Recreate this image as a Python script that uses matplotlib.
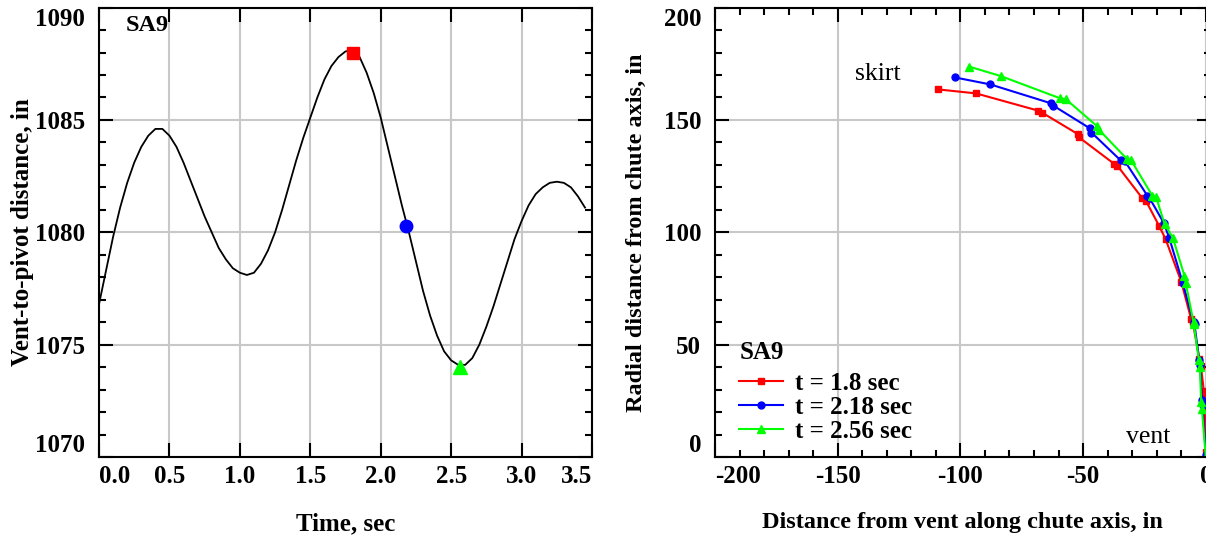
import matplotlib
matplotlib.use("Agg")
from matplotlib import pyplot as plt
from matplotlib.ticker import MultipleLocator

plt.rcParams['font.family'] = ['Liberation Serif', 'DejaVu Serif']
plt.rcParams['font.weight'] = 'bold'
plt.rcParams['font.size'] = 18
plt.rcParams['axes.unicode_minus'] = False

# left panel: vent-to-pivot distance vs time
time_s = [0.0, 0.05, 0.1, 0.15, 0.2, 0.25, 0.3, 0.35, 0.4, 0.45, 0.5, 0.55, 0.6, 0.65,
          0.7, 0.75, 0.8, 0.85, 0.9, 0.95, 1.0, 1.05, 1.1, 1.15, 1.2, 1.25, 1.3, 1.35,
          1.4, 1.45, 1.5, 1.55, 1.6, 1.65, 1.7, 1.75, 1.8, 1.85, 1.9, 1.95, 2.0, 2.05,
          2.1, 2.15, 2.2, 2.25, 2.3, 2.35, 2.4, 2.45, 2.5, 2.55, 2.6, 2.65, 2.7, 2.75,
          2.8, 2.85, 2.9, 2.95, 3.0, 3.05, 3.1, 3.15, 3.2, 3.25, 3.3, 3.35, 3.4, 3.45]
dist_in = [1076.8, 1078.3, 1079.8, 1081.1, 1082.2, 1083.1, 1083.8, 1084.3, 1084.6, 1084.6,
           1084.3, 1083.8, 1083.1, 1082.3, 1081.5, 1080.7, 1080.0, 1079.3, 1078.8, 1078.4,
           1078.2, 1078.1, 1078.2, 1078.6, 1079.2, 1080.0, 1081.0, 1082.1, 1083.2, 1084.2,
           1085.1, 1086.0, 1086.8, 1087.4, 1087.8, 1088.05, 1088.1, 1087.8, 1087.1, 1086.2,
           1085.1, 1083.8, 1082.5, 1081.2, 1080.0, 1078.7, 1077.4, 1076.3, 1075.4, 1074.7,
           1074.3, 1074.1, 1074.1, 1074.4, 1075.0, 1075.8, 1076.7, 1077.7, 1078.7, 1079.7,
           1080.5, 1081.2, 1081.7, 1082.0, 1082.2, 1082.25, 1082.2, 1082.0, 1081.6, 1081.1]
mark_t = [1.8, 2.18, 2.56]
mark_d = [1088.0, 1080.3, 1074.0]
time_ticks = [0.0, 0.5, 1.0, 1.5, 2.0, 2.5, 3.0, 3.5]
dist_ticks = [1070, 1075, 1080, 1085, 1090]

# right panel: chute profiles at three instants
red_x = [-109.2, -93.6, -68.2, -66.8, -52.0, -51.6, -37.4, -36.0, -25.9, -24.3, -19.1,
         -16.4, -10.0, -6.0, -5.3, -2.6, -2.0, -0.8, -0.5, 0.0]
red_y = [163.6, 161.8, 154.1, 153.3, 143.6, 142.2, 130.5, 129.6, 115.2, 113.8, 103.0,
         97.0, 78.0, 61.5, 60.0, 43.7, 40.5, 29.5, 27.0, 2.0]
blue_x = [-102.2, -87.8, -63.1, -62.2, -47.3, -46.6, -34.7, -32.9, -23.8, -22.9, -17.1,
          -14.9, -9.4, -5.0, -4.6, -2.7, -2.3, -1.6, -1.3, 0.0]
blue_y = [168.9, 165.8, 157.4, 156.4, 146.3, 144.4, 132.0, 131.5, 116.3, 115.2, 104.1,
          97.5, 77.5, 59.9, 59.0, 43.0, 41.0, 25.4, 23.0, 1.0]
green_x = [-96.3, -83.5, -59.3, -57.0, -44.4, -43.5, -32.2, -30.4, -21.8, -20.2, -16.8,
           -13.4, -8.7, -8.2, -5.0, -4.9, -2.8, -2.4, -1.9, -1.6, 0.0]
green_y = [173.7, 169.5, 159.6, 159.2, 147.3, 145.6, 132.7, 132.0, 116.3, 115.5, 103.7,
           97.5, 80.6, 77.5, 59.9, 59.1, 43.0, 40.0, 24.6, 21.5, 0.0]
series_labels = ["t = 1.8 sec", "t = 2.18 sec", "t = 2.56 sec"]
axial_ticks = [-200, -150, -100, -50, 0]
radial_ticks = [0, 50, 100, 150, 200]

grid_col = "#c8c8c8"

fig = plt.figure(figsize=(12.06, 5.41), dpi=100)
ax1 = fig.add_axes([0.0821, 0.1553, 0.4088, 0.8307])
ax2 = fig.add_axes([0.5929, 0.1553, 0.4110, 0.8307])


def style_axes(ax):
    ax.grid(True, color=grid_col, linewidth=1.5)
    ax.set_axisbelow(True)
    for s in ax.spines.values():
        s.set_linewidth(1.5)
    ax.tick_params(which='both', direction='in', top=True, right=True, width=1.5)
    ax.tick_params(which='major', length=10)
    ax.tick_params(axis='y', which='major', pad=10)
    ax.tick_params(axis='x', which='major', pad=6)
    ax.tick_params(which='minor', length=5)


# ---- left panel
ax1.plot(time_s, dist_in, color='black', linewidth=1.3)
ax1.plot(mark_t[0], mark_d[0], 's', color='red', markersize=8)
ax1.plot(mark_t[1], mark_d[1], 'o', color='blue', markersize=9)
ax1.plot(mark_t[2], mark_d[2], '^', color='#00ff00', markersize=10)
ax1.set_xlim(0, 3.5)
ax1.set_ylim(1070, 1090)
ax1.set_xticks(time_ticks)
ax1.set_xticklabels(["%.1f" % v for v in time_ticks])
ax1.set_yticks(dist_ticks)
ax1.yaxis.set_minor_locator(MultipleLocator(1))
style_axes(ax1)
ax1.set_xlabel("Time, sec", fontweight='bold', labelpad=17)
ax1.set_ylabel("Vent-to-pivot distance, in", fontweight='bold', labelpad=1)
ax1.text(0.19, 1089.2, "SA9", fontweight='bold', fontsize=17.5, va='center')

# ---- right panel
ax2.plot(red_x, red_y, '-s', color='red', markersize=5, linewidth=1.5, label=series_labels[0])
ax2.plot(blue_x, blue_y, '-o', color='blue', markersize=5, linewidth=1.5, label=series_labels[1])
ax2.plot(green_x, green_y, '-^', color='#00ff00', markersize=6, linewidth=1.5, label=series_labels[2])
ax2.set_xlim(-200, 2)
ax2.set_ylim(0, 200)
ax2.set_xticks(axial_ticks)
ax2.xaxis.set_minor_locator(MultipleLocator(10))
ax2.set_yticks(radial_ticks)
ax2.yaxis.set_minor_locator(MultipleLocator(10))
style_axes(ax2)
ax2.set_xlabel("Distance from vent along chute axis, in", fontweight='bold',
               fontsize=17.5, labelpad=17)
ax2.set_ylabel("Radial distance from chute axis, in", fontweight='bold',
               fontsize=17.5, labelpad=12)
ax2.text(-143, 170.5, "skirt", fontweight='normal', fontsize=18.5, va='center')
ax2.text(-32.5, 9, "vent", fontweight='normal', fontsize=18.5, va='center')
ax2.text(-190, 46.7, "SA9", fontweight='bold', fontsize=18, va='center')
leg = ax2.legend(loc='upper left', frameon=False, fontsize=18,
                 handlelength=1.76, handletextpad=0.48, labelspacing=0.04,
                 borderpad=0, borderaxespad=0, bbox_to_anchor=(0.0488, 0.19))

# keep the end tick labels inside the frame, like the original
t1x = ax1.xaxis.get_major_ticks()
t1x[0].label1.set_horizontalalignment('left')
t1x[-1].label1.set_horizontalalignment('right')
t1y = ax1.yaxis.get_major_ticks()
t1y[0].label1.set_verticalalignment('bottom')
t1y[-1].label1.set_verticalalignment('top')
t2x = ax2.xaxis.get_major_ticks()
t2x[0].label1.set_horizontalalignment('left')
t2y = ax2.yaxis.get_major_ticks()
t2y[0].label1.set_verticalalignment('bottom')
t2y[-1].label1.set_verticalalignment('top')

fig.savefig("out.png", dpi=100)
